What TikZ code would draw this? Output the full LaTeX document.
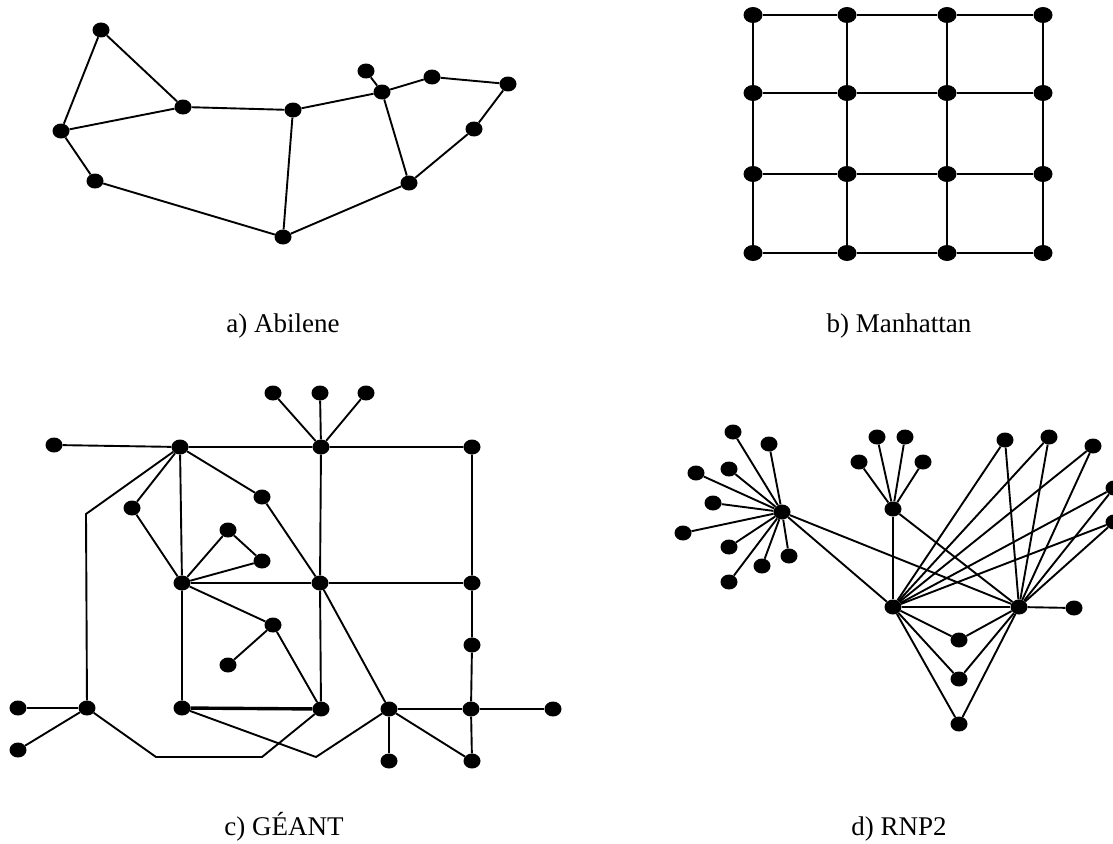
\documentclass[tikz,border=0pt]{standalone}
\usepackage{fontspec}
\setmainfont{Liberation Serif}
\usetikzlibrary{positioning, shapes.geometric}

\begin{document}
\begin{tikzpicture}[
  x=1pt, y=-1pt,
  dot/.style={ellipse, fill=black, inner sep=0pt,
              minimum width=17pt, minimum height=15pt},
  link/.style={line width=1.9pt, color=black},
  heavy/.style={line width=3.4pt, color=black},
  subcap/.style={font=\fontsize{27}{32}\selectfont, anchor=base},
]
\useasboundingbox (0,0) rectangle (1113,843);

% === a) Abilene ===
\node[dot] (ab1)  at (101,30)  {};
\node[dot] (ab2)  at (61,131)  {};
\node[dot] (ab3)  at (95,181)  {};
\node[dot] (ab4)  at (183,107) {};
\node[dot] (ab5)  at (293,110) {};
\node[dot] (ab6)  at (283,237) {};
\node[dot] (ab7)  at (382,92)  {};
\node[dot] (ab8)  at (366,71)  {};
\node[dot] (ab9)  at (432,77)  {};
\node[dot] (ab10) at (508,84)  {};
\node[dot] (ab11) at (474,129) {};
\node[dot] (ab12) at (409,183) {};

\draw[link] (ab1) -- (ab2) -- (ab3) -- (ab6) -- (ab5) -- (ab4) -- (ab1);
\draw[link] (ab2) -- (ab4);
\draw[link] (ab5) -- (ab7) -- (ab9) -- (ab10) -- (ab11) -- (ab12) -- (ab6);
\draw[link] (ab7) -- (ab8);
\draw[link] (ab7) -- (ab12);

\node[subcap] (capa) at (283,332) {a) Abilene};

% === b) Manhattan ===
\foreach \i/\x in {1/753, 2/847, 3/947, 4/1043}
  \foreach \j/\y in {1/15, 2/93, 3/174, 4/253}
    \node[dot, minimum width=19pt, minimum height=16pt] (mh\i\j) at (\x,\y) {};

\foreach \i in {1,...,4}
  \foreach \j [count=\k from 2] in {1,2,3} {
    \draw[link] (mh\i\j) -- (mh\i\k);
    \draw[link] (mh\j\i) -- (mh\k\i);
  }

\node[subcap] (capb) at (899,332) {b) Manhattan};

% === c) GEANT ===
\node[dot] (gl)  at (54,445)  {};
\node[dot] (gA)  at (180,447) {};
\node[dot] (gt1) at (273,393) {};
\node[dot] (gt2) at (320,393) {};
\node[dot] (gt3) at (366,393) {};
\node[dot] (gB)  at (321,447) {};
\node[dot] (gC)  at (472,447) {};
\node[dot] (gd)  at (132,508) {};
\node[dot] (ge)  at (262,497) {};
\node[dot] (gf)  at (228,530) {};
\node[dot] (gg)  at (262,561) {};
\node[dot] (gH)  at (182,583) {};
\node[dot] (gI)  at (320,583) {};
\node[dot] (gJ)  at (472,583) {};
\node[dot] (gk)  at (273,625) {};
\node[dot] (gm)  at (228,665) {};
\node[dot] (gn)  at (472,645) {};
\node[dot] (gP)  at (87,708)  {};
\node[dot] (gq)  at (18,708)  {};
\node[dot] (gr)  at (18,750)  {};
\node[dot] (gS)  at (182,708) {};
\node[dot] (gT)  at (321,709) {};
\node[dot] (gU)  at (389,709) {};
\node[dot] (gV)  at (471,709) {};
\node[dot] (gw)  at (553,709) {};
\node[dot] (gx)  at (389,761) {};
\node[dot] (gy)  at (472,761) {};

% bend points of the routed links
\coordinate (gc1) at (86,514);
\coordinate (gc2) at (156,757);
\coordinate (gc3) at (262,757);
\coordinate (gc4) at (316,757);

\draw[link] (gl) -- (gA) -- (gB) -- (gC) -- (gJ) -- (gn) -- (gV) -- (gy);
\draw[link] (gt1) -- (gB);
\draw[link] (gt2) -- (gB);
\draw[link] (gt3) -- (gB);
\draw[link] (gB) -- (gI) -- (gT);
\draw[link] (gA) -- (gH) -- (gS);
\draw[link] (gA) -- (gd) -- (gH);
\draw[link] (gA) -- (ge) -- (gI);
\draw[link] (gA) -- (gc1) -- (gP);
\draw[link] (gH) -- (gf) -- (gg) -- (gH);
\draw[link] (gH) -- (gI) -- (gJ);
\draw[link] (gH) -- (gk) -- (gT);
\draw[link] (gk) -- (gm);
\draw[link] (gI) -- (gU);
\draw[heavy] (gS) -- (gT);
\draw[link] (gS) -- (gc4) -- (gU);
\draw[link] (gT) -- (gc3) -- (gc2) -- (gP);
\draw[link] (gP) -- (gq);
\draw[link] (gP) -- (gr);
\draw[link] (gU) -- (gV) -- (gw);
\draw[link] (gU) -- (gx);
\draw[link] (gU) -- (gy);

\node[subcap] (capc) at (284,835) {c) GÉANT};

% === d) RNP2 ===
\node[dot] (rA) at (782,512) {};
\node[dot] (rB) at (893,509) {};
\node[dot] (rC) at (893,607) {};
\node[dot] (rD) at (1019,607) {};

% leaves of the left hub
\foreach \x/\y [count=\n] in {733/432, 769/444, 696/473, 729/469, 713/503,
                              683/533, 729/547, 789/556, 762/566, 729/582} {
  \node[dot] (rl\n) at (\x,\y) {};
  \draw[link] (rA) -- (rl\n);
}

% leaves of the top hub
\foreach \x/\y [count=\n] in {877/437, 905/437, 859/462, 923/462} {
  \node[dot] (rm\n) at (\x,\y) {};
  \draw[link] (rB) -- (rm\n);
}

% nodes shared by both lower hubs
\foreach \x/\y [count=\n] in {1005/440, 1049/437, 1093/446, 1114/488, 1114/522,
                              959/640, 959/679, 959/724} {
  \node[dot] (rs\n) at (\x,\y) {};
  \draw[link] (rC) -- (rs\n) -- (rD);
}

\node[dot] (rr) at (1074,608) {};

\draw[link] (rA) -- (rC);
\draw[link] (rA) -- (rD);
\draw[link] (rB) -- (rC) -- (rD);
\draw[link] (rB) -- (rD) -- (rr);

\node[subcap] (capd) at (899,835) {d) RNP2};

\end{tikzpicture}
\end{document}
